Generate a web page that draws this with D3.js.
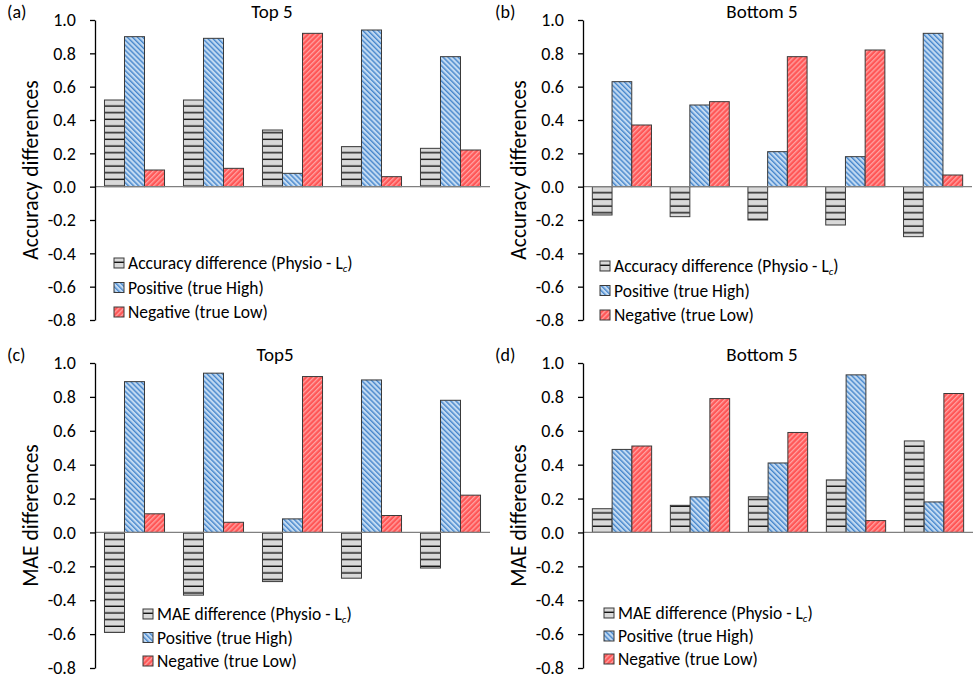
<!DOCTYPE html>
<html>
<head>
<meta charset="utf-8">
<script src="https://cdn.jsdelivr.net/npm/d3@7"></script>
<style>
  body { margin: 0; background: #fff; }
  text { font-family: Carlito, "Open Sans", sans-serif; fill: #000; }
</style>
</head>
<body>
<div id="chart"></div>
<script>
// categories (five subjects per panel)
const groups = ["1", "2", "3", "4", "5"];
const keys = ["diff", "pos", "neg"];

// y ticks
const yTicks = [-0.8, -0.6, -0.4, -0.2, 0, 0.2, 0.4, 0.6, 0.8, 1.0];
const yTickLabels = ["-0.8", "-0.6", "-0.4", "-0.2", "0.0", "0.2", "0.4", "0.6", "0.8", "1.0"];

// (a) accuracy, top 5
const accTopDiff = [0.52, 0.52, 0.34, 0.24, 0.23];
const accTopPos  = [0.90, 0.89, 0.08, 0.94, 0.78];
const accTopNeg  = [0.10, 0.11, 0.92, 0.06, 0.22];

// (b) accuracy, bottom 5
const accBotDiff = [-0.17, -0.18, -0.20, -0.23, -0.30];
const accBotPos  = [0.63, 0.49, 0.21, 0.18, 0.92];
const accBotNeg  = [0.37, 0.51, 0.78, 0.82, 0.07];

// (c) MAE, top 5
const maeTopDiff = [-0.59, -0.37, -0.29, -0.27, -0.21];
const maeTopPos  = [0.89, 0.94, 0.08, 0.90, 0.78];
const maeTopNeg  = [0.11, 0.06, 0.92, 0.10, 0.22];

// (d) MAE, bottom 5
const maeBotDiff = [0.14, 0.16, 0.21, 0.31, 0.54];
const maeBotPos  = [0.49, 0.21, 0.41, 0.93, 0.18];
const maeBotNeg  = [0.51, 0.79, 0.59, 0.07, 0.82];

const panels = [
  {letter: "(a)", title: "Top 5", ylabel: "Accuracy differences", diffName: "Accuracy difference (Physio - L",
   diff: accTopDiff, pos: accTopPos, neg: accTopNeg,
   x0: 95, x1: 490, top: 20, bottom: 320, titleX: 272, lx: 114, ly: 263, lstep: 24.5},
  {letter: "(b)", title: "Bottom 5", ylabel: "Accuracy differences", diffName: "Accuracy difference  (Physio - L",
   diff: accBotDiff, pos: accBotPos, neg: accBotNeg,
   x0: 583, x1: 972, top: 20, bottom: 320, titleX: 762, lx: 600, ly: 266, lstep: 24.5},
  {letter: "(c)", title: "Top5", ylabel: "MAE differences", diffName: "MAE difference  (Physio - L",
   diff: maeTopDiff, pos: maeTopPos, neg: maeTopNeg,
   x0: 95, x1: 490, top: 363, bottom: 668, titleX: 275, lx: 143, ly: 614, lstep: 23.5},
  {letter: "(d)", title: "Bottom 5", ylabel: "MAE differences", diffName: "MAE difference  (Physio - L",
   diff: maeBotDiff, pos: maeBotPos, neg: maeBotNeg,
   x0: 583, x1: 973, top: 363, bottom: 668, titleX: 762, lx: 604, ly: 613, lstep: 23}
];

const svg = d3.select("#chart").append("svg")
    .attr("width", 974)
    .attr("height", 680);

const defs = svg.append("defs");

// horizontal lines on grey
const pGrey = defs.append("pattern")
    .attr("id", "pat-diff")
    .attr("patternUnits", "userSpaceOnUse")
    .attr("width", 8).attr("height", 6.67);
pGrey.append("rect").attr("width", 8).attr("height", 6.67).attr("fill", "#d9d9d9");
pGrey.append("rect").attr("y", 5.3).attr("width", 8).attr("height", 1.4).attr("fill", "#111");

// "\" stripes on light blue
const pBlue = defs.append("pattern")
    .attr("id", "pat-pos")
    .attr("patternUnits", "userSpaceOnUse")
    .attr("width", 3.6).attr("height", 10)
    .attr("patternTransform", "rotate(-45)");
pBlue.append("rect").attr("width", 3.6).attr("height", 10).attr("fill", "#c2daf2");
pBlue.append("rect").attr("width", 1.4).attr("height", 10).attr("fill", "#4686cc");

// "/" stripes on red
const pRed = defs.append("pattern")
    .attr("id", "pat-neg")
    .attr("patternUnits", "userSpaceOnUse")
    .attr("width", 3.6).attr("height", 10)
    .attr("patternTransform", "rotate(45)");
pRed.append("rect").attr("width", 3.6).attr("height", 10).attr("fill", "#ff5757");
pRed.append("rect").attr("width", 1.3).attr("height", 10).attr("fill", "#ffa3a3");

const fillOf = k => `url(#pat-${k})`;

panels.forEach(function(p) {
  const g = svg.append("g");

  const y = d3.scaleLinear()
      .domain([-0.8, 1.0])
      .range([p.bottom, p.top]);

  const x = d3.scaleBand()
      .domain(groups)
      .range([p.x0, p.x1])
      .paddingInner(0.24)
      .paddingOuter(0.12);

  const xSub = d3.scaleBand()
      .domain(keys)
      .range([0, x.bandwidth()]);

  // bars
  const rows = groups.map((c, i) => ({cat: c, diff: p.diff[i], pos: p.pos[i], neg: p.neg[i]}));

  g.selectAll(".grp")
    .data(rows)
    .join("g")
      .attr("transform", d => `translate(${x(d.cat)},0)`)
    .selectAll("rect")
    .data(d => keys.map(k => ({key: k, value: d[k]})))
    .join("rect")
      .attr("x", d => xSub(d.key))
      .attr("y", d => y(Math.max(0, d.value)))
      .attr("width", xSub.bandwidth())
      .attr("height", d => Math.abs(y(d.value) - y(0)))
      .attr("fill", d => fillOf(d.key))
      .attr("stroke", "#3a3a3a")
      .attr("stroke-width", 1);

  // zero line
  g.append("line")
      .attr("x1", p.x0).attr("x2", p.x1)
      .attr("y1", y(0)).attr("y2", y(0))
      .attr("stroke", "#808080")
      .attr("stroke-width", 1.3);

  // y axis
  const ax = g.append("g")
      .attr("transform", `translate(${p.x0},0)`)
      .call(d3.axisLeft(y)
        .tickValues(yTicks)
        .tickFormat((d, i) => yTickLabels[i])
        .tickSize(5)
        .tickSizeOuter(0)
        .tickPadding(14));
  ax.select(".domain").attr("stroke", "#000").attr("stroke-width", 1.3);
  ax.selectAll(".tick line").attr("stroke", "#000").attr("stroke-width", 1.3);
  ax.selectAll(".tick text")
      .style("font-family", "Carlito, 'Open Sans', sans-serif")
      .style("font-size", "18px")
      .attr("fill", "#000");

  // title and letter
  g.append("text")
      .attr("x", p.titleX).attr("y", p.top - 2)
      .attr("text-anchor", "middle")
      .style("font-size", "19px")
      .text(p.title);
  g.append("text")
      .attr("x", p.x0 - 88).attr("y", p.top - 2.5)
      .style("font-size", "18px")
      .text(p.letter);

  // y label
  g.append("text")
      .attr("transform", `translate(${p.x0 - 65},${(p.top + p.bottom) / 2}) rotate(-90)`)
      .attr("text-anchor", "middle")
      .attr("dy", "0.35em")
      .style("font-size", "21.5px")
      .text(p.ylabel);

  // legend
  const names = [p.diffName, "Positive (true High)", "Negative (true Low)"];
  const leg = g.selectAll(".leg")
    .data(keys)
    .join("g")
      .attr("transform", (k, i) => `translate(${p.lx},${p.ly + i * p.lstep})`);
  leg.append("rect")
      .attr("x", 0).attr("y", -5)
      .attr("width", 10).attr("height", 10)
      .attr("fill", k => fillOf(k))
      .attr("stroke", "#3a3a3a")
      .attr("stroke-width", 1);
  const lt = leg.append("text")
      .attr("x", 14).attr("dy", "0.35em")
      .style("font-size", "17.5px")
      .text((k, i) => names[i]);
  lt.filter(k => k === "diff")
    .append("tspan")
      .style("font-size", "11px")
      .style("font-style", "italic")
      .attr("dy", "3")
      .text("c");
  lt.filter(k => k === "diff")
    .append("tspan")
      .attr("dy", "-3")
      .text(")");
});
</script>
</body>
</html>
